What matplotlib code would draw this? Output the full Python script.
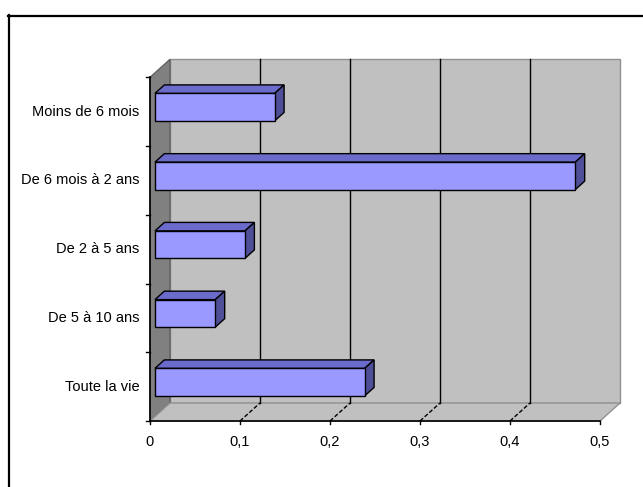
import matplotlib.pyplot as plt
from matplotlib.patches import Polygon
from matplotlib.lines import Line2D

categories = ['Moins de 6 mois', 'De 6 mois à 2 ans', 'De 2 à 5 ans', 'De 5 à 10 ans', 'Toute la vie']
values = [0.133, 0.467, 0.1, 0.067, 0.233]
xticks = [0, 0.1, 0.2, 0.3, 0.4, 0.5]
xticklabels = ['0', '0,1', '0,2', '0,3', '0,4', '0,5']

# fake 3D: depth shift in data units
ddx, ddy = 0.0222, 0.262
d0, d1 = 0.25, 0.72
half = 0.2
fam = ['Liberation Sans Narrow', 'Liberation Sans', 'DejaVu Sans']

fig = plt.figure(figsize=(6.43, 4.87), dpi=100)
ax = fig.add_axes([0, 0, 1, 1])
ax.set_xlim(-150 / 900, (643 - 150) / 900)
ax.set_ylim((421 - 487) / 68.75, 421 / 68.75)
ax.axis('off')

n = len(categories)
xmax = xticks[-1]

def sh(v, c, d):
    return (v + d * ddx, c + d * ddy)

# walls
ax.add_patch(Polygon([sh(0, 0, 1), sh(xmax, 0, 1), sh(xmax, n, 1), sh(0, n, 1)],
                     closed=True, fc='#c0c0c0', ec='#909090', lw=1, zorder=1))
ax.add_patch(Polygon([sh(0, 0, 0), sh(0, n, 0), sh(0, n, 1), sh(0, 0, 1)],
                     closed=True, fc='#808080', ec='#555555', lw=0.8, zorder=2))
ax.add_patch(Polygon([sh(0, 0, 0), sh(xmax, 0, 0), sh(xmax, 0, 1), sh(0, 0, 1)],
                     closed=True, fc='#c0c0c0', ec='#909090', lw=1, zorder=2))

# gridlines on back wall and floor
for t in xticks[1:-1]:
    x0, y0 = sh(t, 0, 1)
    x1, y1 = sh(t, n, 1)
    ax.plot([x0, x1], [y0, y1], color='black', lw=1, zorder=3)
    xf, yf = sh(t, 0, 0)
    ax.plot([xf, x0], [yf, y0], color='black', lw=1, ls=(0, (3, 1.5)), zorder=3)

# axes lines
ax.plot([0, xmax], [0, 0], color='black', lw=1.2, zorder=6)
ax.plot([0, 0], [0, n], color='black', lw=1.2, zorder=6)
for t, lab in zip(xticks, xticklabels):
    ax.plot([t, t], [0, -0.05], color='black', lw=1, zorder=6)
    ax.text(t, -0.31, lab, ha='center', va='center', fontsize=10.5, family=fam)
for i in range(n + 1):
    ax.plot([0, -0.005], [i, i], color='black', lw=1, zorder=6)

# bars
for i, (cat, v) in enumerate(zip(categories, values)):
    c = n - 1 - i + 0.5
    b, t = c - half, c + half
    ax.add_patch(Polygon([sh(0, t, d0), sh(v, t, d0), sh(v, t, d1), sh(0, t, d1)],
                         closed=True, fc='#6b6bcc', ec='black', lw=1, zorder=4))
    ax.add_patch(Polygon([sh(v, b, d0), sh(v, t, d0), sh(v, t, d1), sh(v, b, d1)],
                         closed=True, fc='#4f4f99', ec='black', lw=1, zorder=4))
    ax.add_patch(Polygon([sh(0, b, d0), sh(v, b, d0), sh(v, t, d0), sh(0, t, d0)],
                         closed=True, fc='#9999ff', ec='black', lw=1, zorder=5))
    ax.text(-0.012, c, cat, ha='right', va='center', fontsize=10.5, family=fam)

# outer frame
fig.add_artist(Line2D([8.5 / 643, 8.5 / 643], [0, 1 - 15 / 487], color='black', lw=1.6))
fig.add_artist(Line2D([8 / 643, 1], [1 - 15.5 / 487, 1 - 15.5 / 487], color='black', lw=1.6))

fig.savefig('out.png', dpi=100)
